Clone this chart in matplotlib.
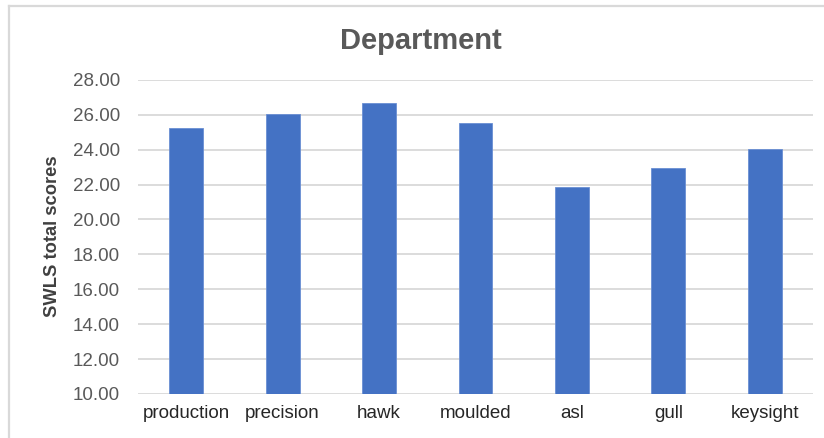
import matplotlib
matplotlib.use("Agg")
import matplotlib.pyplot as plt
from matplotlib import font_manager
from matplotlib.lines import Line2D

departments = ["production", "precision", "hawk", "moulded", "asl", "gull", "keysight"]
swls_scores = [25.22, 26.04, 26.65, 25.54, 21.87, 22.93, 24.03]
y_ticks = [10, 12, 14, 16, 18, 20, 22, 24, 26, 28]

installed = {f.name for f in font_manager.fontManager.ttflist}
narrow = "Liberation Sans Narrow" if "Liberation Sans Narrow" in installed else "Liberation Sans"

W, H = 824, 438
fig = plt.figure(figsize=(W / 100, H / 100), dpi=100)
fig.patch.set_facecolor("white")

# plot area in pixel coordinates
left, right, top, bottom = 138, 813, 79.8, 394
ax = fig.add_axes([left / W, 1 - bottom / H, (right - left) / W, (bottom - top) / H])

x = range(len(departments))
ax.bar(x, [v - 10 for v in swls_scores], bottom=10, width=0.35,
       color="#4472C4", edgecolor="#6A8FD3", linewidth=0.6, zorder=3)

ax.set_ylim(10, 28)
ax.set_xlim(-0.5, len(departments) - 0.5)
ax.set_yticks(y_ticks)
ax.set_yticklabels([f"{t:.2f}" for t in y_ticks])
ax.set_xticks(list(x))
ax.set_xticklabels(departments)

ax.grid(axis="y", color="#D9D9D9", linewidth=1.3, zorder=0)
ax.set_axisbelow(True)
for s in ax.spines.values():
    s.set_visible(False)

ax.tick_params(axis="y", length=0, pad=13, labelsize=13.5, labelcolor="#595959")
ax.tick_params(axis="x", length=0, pad=8, labelsize=13.5, labelcolor="#262626")
for lbl in ax.get_xticklabels() + ax.get_yticklabels():
    lbl.set_fontfamily("Liberation Sans")

fig.text(421 / W, 1 - 41 / H, "Department", ha="center", va="center",
         fontsize=21, fontweight="bold", color="#595959", family="Liberation Sans")
fig.text(53 / W, 1 - 236 / H, "SWLS total scores", ha="center", va="center",
         rotation=90, fontsize=13.2, fontweight="bold", color="#404040", family=narrow)

# chart frame (top and left edges)
fig.add_artist(Line2D([9 / W, 9 / W], [0, 1 - 6 / H], transform=fig.transFigure,
                      color="#D9D9D9", linewidth=1.6))
fig.add_artist(Line2D([9 / W, 1], [1 - 6 / H, 1 - 6 / H], transform=fig.transFigure,
                      color="#D9D9D9", linewidth=1.6))

fig.savefig("out.png", dpi=100)
